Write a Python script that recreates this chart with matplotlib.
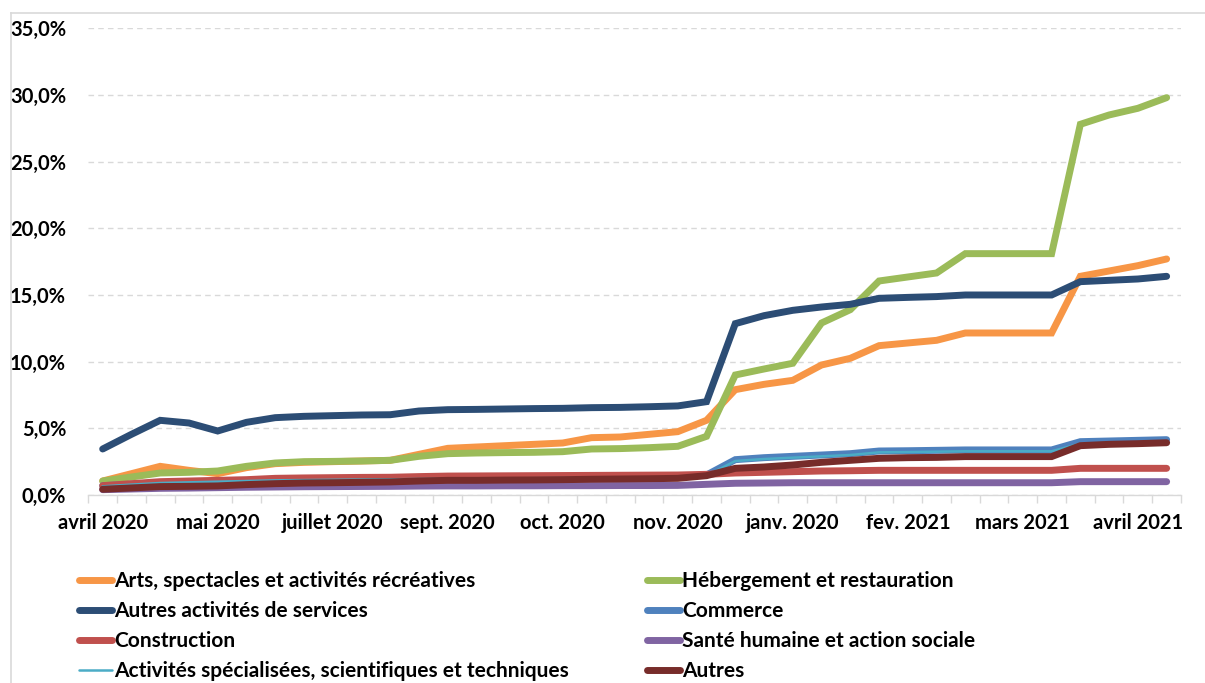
import matplotlib
matplotlib.use("Agg")
import matplotlib.pyplot as plt
from matplotlib.lines import Line2D
from matplotlib.ticker import FuncFormatter
import numpy as np

plt.rcParams['font.family'] = ['Lato', 'DejaVu Sans']
plt.rcParams['font.weight'] = 'bold'

# étiquettes de l'axe (une sur quatre semaines)
mois = ["avril 2020", "mai 2020", "juillet 2020", "sept. 2020", "oct. 2020",
        "nov. 2020", "janv. 2020", "fev. 2021", "mars 2021", "avril 2021"]
n_points = 38

# part des entreprises (%), par secteur
arts = [1.05, 1.6, 2.15, 1.85, 1.6, 2.05, 2.35, 2.45, 2.5, 2.55, 2.6, 3.05, 3.5,
        3.6, 3.7, 3.8, 3.9, 4.3, 4.35, 4.55, 4.75, 5.6, 7.9, 8.3, 8.6, 9.75,
        10.25, 11.2, 11.4, 11.6, 12.15, 12.15, 12.15, 12.15, 16.4, 16.8, 17.2, 17.7]
hebergement = [1.05, 1.35, 1.65, 1.7, 1.8, 2.15, 2.4, 2.5, 2.52, 2.55, 2.6, 2.9, 3.1,
               3.15, 3.18, 3.2, 3.25, 3.45, 3.48, 3.55, 3.65, 4.4, 9.0, 9.45, 9.88,
               12.9, 13.9, 16.05, 16.35, 16.65, 18.1, 18.1, 18.1, 18.1, 27.8, 28.5,
               29.0, 29.8]
autres_services = [3.45, 4.55, 5.6, 5.4, 4.8, 5.45, 5.8, 5.9, 5.95, 6.0, 6.02, 6.3, 6.4,
                   6.42, 6.45, 6.48, 6.5, 6.55, 6.57, 6.62, 6.68, 7.0, 12.85, 13.45,
                   13.85, 14.1, 14.3, 14.75, 14.82, 14.88, 15.0, 15.0, 15.0, 15.0,
                   16.0, 16.1, 16.2, 16.4]
commerce = [0.7, 0.8, 0.9, 0.95, 1.0, 1.05, 1.1, 1.15, 1.15, 1.2, 1.2, 1.25, 1.25,
            1.27, 1.28, 1.3, 1.3, 1.32, 1.33, 1.34, 1.35, 1.5, 2.65, 2.8, 2.9,
            3.0, 3.1, 3.3, 3.32, 3.35, 3.38, 3.38, 3.38, 3.38, 4.0, 4.05, 4.1, 4.15]
construction = [0.7, 0.85, 1.0, 1.05, 1.1, 1.15, 1.25, 1.28, 1.3, 1.32, 1.33, 1.38,
                1.42, 1.43, 1.44, 1.45, 1.46, 1.47, 1.48, 1.49, 1.5, 1.55, 1.65, 1.7,
                1.75, 1.8, 1.82, 1.85, 1.85, 1.85, 1.85, 1.85, 1.85, 1.85, 2.0, 2.0,
                2.0, 2.0]
sante = [0.4, 0.45, 0.5, 0.52, 0.55, 0.58, 0.6, 0.62, 0.63, 0.64, 0.65, 0.67, 0.68,
         0.68, 0.69, 0.69, 0.7, 0.7, 0.71, 0.71, 0.72, 0.8, 0.88, 0.9, 0.92, 0.92,
         0.92, 0.92, 0.92, 0.92, 0.92, 0.92, 0.92, 0.92, 1.0, 1.0, 1.0, 1.0]
specialisees = [0.65, 0.78, 0.9, 0.95, 1.0, 1.05, 1.1, 1.12, 1.14, 1.16, 1.18, 1.2,
                1.22, 1.24, 1.25, 1.26, 1.27, 1.28, 1.29, 1.3, 1.32, 1.45, 2.55, 2.7,
                2.8, 2.9, 3.0, 3.2, 3.22, 3.25, 3.28, 3.28, 3.28, 3.28, 3.85, 3.9,
                3.95, 4.0]
autres = [0.43, 0.53, 0.63, 0.65, 0.68, 0.78, 0.85, 0.9, 0.92, 0.95, 0.98, 1.05, 1.1,
          1.1, 1.12, 1.13, 1.15, 1.18, 1.2, 1.22, 1.25, 1.45, 2.0, 2.1, 2.25, 2.45,
          2.6, 2.75, 2.8, 2.82, 2.88, 2.88, 2.88, 2.88, 3.7, 3.8, 3.85, 3.92]

series = [
    ("Arts, spectacles et activités récréatives", arts, "#F79646", 5.0),
    ("Hébergement et restauration", hebergement, "#9BBB59", 5.0),
    ("Autres activités de services", autres_services, "#2C4D75", 5.0),
    ("Commerce", commerce, "#4F81BD", 5.0),
    ("Construction", construction, "#C0504D", 5.0),
    ("Santé humaine et action sociale", sante, "#8064A2", 5.0),
    ("Activités spécialisées, scientifiques et techniques", specialisees, "#4BACC6", 1.8),
    ("Autres", autres, "#772C2A", 5.0),
]

fig = plt.figure(figsize=(12.05, 6.83), dpi=100)
W, H = 1205, 683
ax = fig.add_axes([88.3 / W, 1 - 495 / H, (1181 - 88.3) / W, (495 - 28.3) / H])

x = np.arange(n_points)
handles = []
for nom, vals, coul, lw in series:
    ax.plot(x, vals, color=coul, lw=lw, solid_capstyle='round',
            solid_joinstyle='miter')
    handles.append(Line2D([], [], color=coul, lw=lw, solid_capstyle='round', label=nom))

ax.set_xlim(-0.5, n_points - 0.5)
ax.set_ylim(0, 35)
ax.set_yticks(np.arange(0, 36, 5))
ax.yaxis.set_major_formatter(FuncFormatter(lambda v, p: f"{v:.1f}%".replace(".", ",")))
ax.grid(axis='y', color='#D9D9D9', ls=(0, (4, 3)), lw=1)
ax.set_axisbelow(True)

ax.set_xticks(np.arange(0, n_points, 4))
ax.set_xticklabels(mois)
ax.set_xticks(np.arange(-0.5, n_points, 1), minor=True)
ax.tick_params(axis='x', which='major', length=0, pad=13, labelsize=14.5)
ax.tick_params(axis='x', which='minor', length=6, color='#D9D9D9', width=1)
ax.tick_params(axis='y', length=0, pad=16, labelsize=14.5)

for s in ['left', 'right', 'top']:
    ax.spines[s].set_visible(False)
ax.spines['bottom'].set_color('#D9D9D9')
ax.spines['bottom'].set_linewidth(1)

# cadre de la zone de graphique
fig.add_artist(Line2D([11 / W, 11 / W], [0, 1 - 13 / H], color='#D9D9D9', lw=1.2))
fig.add_artist(Line2D([11 / W, 1], [1 - 13 / H, 1 - 13 / H], color='#D9D9D9', lw=1.2))

# légende sur deux colonnes
col1 = [handles[0], handles[2], handles[4], handles[6]]
col2 = [handles[1], handles[3], handles[5], handles[7]]
for hs, x0 in [(col1, 69 / W), (col2, 637 / W)]:
    fig.legend(handles=hs, loc='upper left', bbox_to_anchor=(x0, 1 - 561 / H),
               frameon=False, fontsize=15, handlelength=1.55,
               handletextpad=0.12, labelspacing=0.47, borderpad=0)

fig.savefig("out.png", dpi=100)
